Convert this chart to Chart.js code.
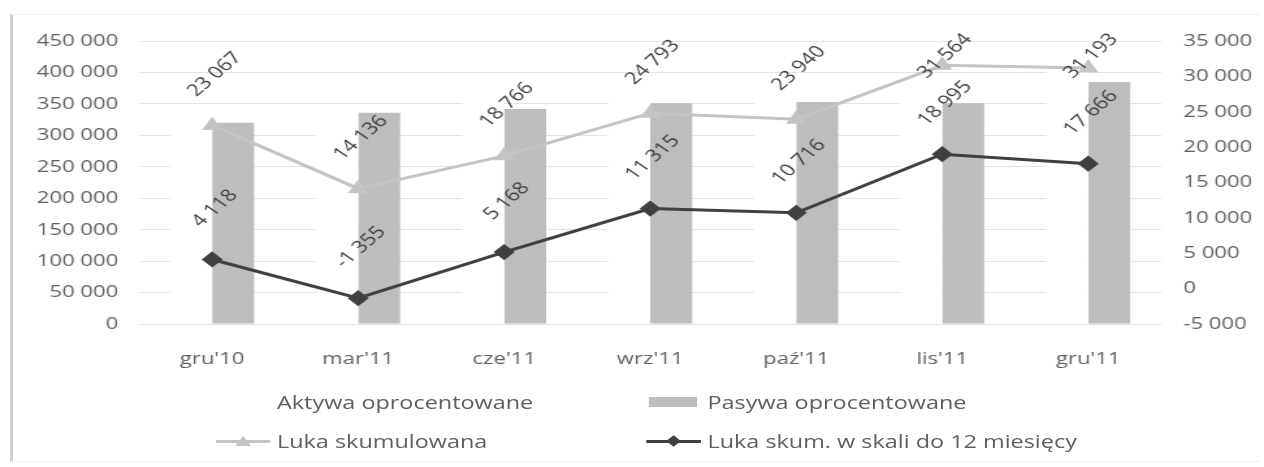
<!DOCTYPE html>
<html lang="pl">
<head>
<meta charset="utf-8">
<title>Luka stopy procentowej</title>
<script src="https://cdn.jsdelivr.net/npm/chart.js@4.4.1/dist/chart.umd.min.js"></script>
<style>
  html, body { margin: 0; padding: 0; background: #fff; overflow: hidden; }
  #frame {
    position: absolute; left: 10px; top: 14px; width: 1250px; height: 448px;
    border-left: 3px solid #cfcfcf; border-top: 1px solid #eeeeee; border-bottom: 1px solid #eeeeee;
    box-sizing: border-box;
  }
  /* the chart is laid out narrow and widened as a whole */
  #wrap {
    position: absolute; left: 0; top: 0; width: 972px; height: 467px;
    transform: scaleX(1.3004); transform-origin: 0 0;
  }
  #chart { position: absolute; left: 0; top: 0; }
  .legend-item {
    position: absolute; height: 22px; line-height: 22px;
    font-family: "Open Sans", sans-serif; font-size: 18px; color: #5f5f5f; white-space: nowrap;
  }
  .legend-item .swatch { position: absolute; top: 0; height: 22px; }
  .legend-item .label { position: absolute; top: 0; }
</style>
</head>
<body>
<div id="frame"></div>
<div id="wrap">
  <canvas id="chart" width="972" height="467"></canvas>
  <div id="legend"></div>
</div>
<script>
const categories = ["gru'10", "mar'11", "cze'11", "wrz'11", "paź'11", "lis'11", "gru'11"];
const aktywa = [343000, 350000, 361000, 376000, 377000, 383000, 416000];
const pasywa = [320000, 336000, 342000, 351000, 353000, 351000, 385000];
const lukaSkumulowana = [23067, 14136, 18766, 24793, 23940, 31564, 31193];
const luka12m = [4118, -1355, 5168, 11315, 10716, 18995, 17666];

const leftAxis = { min: 0, max: 450000, step: 50000 };
const rightAxis = { min: -5000, max: 35000, step: 5000 };

const TEXT = "#606060";
const FONT = "'Open Sans', sans-serif";

/**
 * @param {number} v value to print
 * @returns the value with a space between thousands, e.g. 450 000
 */
function formatNumber(v) {
  return String(Math.round(v)).replace(/\B(?=(\d{3})+(?!\d))/g, " ");
}

// prints the value of every line point, turned up, above the point;
// labels never go higher than the top of the frame allows
const valueLabels = {
  id: "valueLabels",
  afterDatasetsDraw(chart) {
    const ctx = chart.ctx;
    chart.data.datasets.forEach((ds, i) => {
      if (ds.type !== "line") return;
      const meta = chart.getDatasetMeta(i);
      meta.data.forEach((pt, j) => {
        const y = Math.max(pt.y - 51, 56);
        ctx.save();
        ctx.translate(pt.x + 2, y);
        ctx.rotate((-48 * Math.PI) / 180);
        ctx.font = "17px " + FONT;
        ctx.fillStyle = "#3f3f3f";
        ctx.textAlign = "center";
        ctx.textBaseline = "middle";
        ctx.fillText(formatNumber(ds.data[j]), 0, 0);
        ctx.restore();
      });
    });
  },
};

const ctx = document.getElementById("chart").getContext("2d");
const chart = new Chart(ctx, {
  data: {
    labels: categories,
    datasets: [
      {
        type: "bar",
        label: "Aktywa oprocentowane",
        data: aktywa,
        backgroundColor: "#ffffff",
        yAxisID: "y",
        order: 2,
      },
      {
        type: "bar",
        label: "Pasywa oprocentowane",
        data: pasywa,
        backgroundColor: "#bdbdbd",
        yAxisID: "y",
        order: 2,
      },
      {
        type: "line",
        label: "Luka skumulowana",
        data: lukaSkumulowana,
        borderColor: "#c4c4c4",
        backgroundColor: "#c4c4c4",
        borderWidth: 3,
        pointStyle: "triangle",
        pointRadius: 6,
        yAxisID: "y2",
        order: 1,
      },
      {
        type: "line",
        label: "Luka skum. w skali do 12 miesięcy",
        data: luka12m,
        borderColor: "#404040",
        backgroundColor: "#404040",
        borderWidth: 3,
        pointStyle: "rectRot",
        pointRadius: 6,
        yAxisID: "y2",
        order: 0,
      },
    ],
  },
  options: {
    responsive: false,
    animation: false,
    devicePixelRatio: 1,
    layout: { padding: { top: 41, left: 0, right: 0, bottom: 0 } },
    datasets: { bar: { categoryPercentage: 0.575, barPercentage: 1 } },
    plugins: { legend: { display: false }, tooltip: { enabled: false } },
    scales: {
      x: {
        grid: { display: false },
        border: { display: false },
        ticks: { color: TEXT, font: { family: FONT, size: 17 }, padding: 17, maxRotation: 0 },
        afterFit(scale) { scale.height = 143; },
      },
      y: {
        position: "left",
        min: leftAxis.min,
        max: leftAxis.max,
        grid: { color: "#e4e4e4", drawTicks: false },
        border: { display: false },
        ticks: {
          stepSize: leftAxis.step,
          color: TEXT,
          font: { family: FONT, size: 17 },
          padding: 16,
          callback: (v) => formatNumber(v),
        },
        afterFit(scale) { scale.width = 107; },
      },
      y2: {
        position: "right",
        min: rightAxis.min,
        max: rightAxis.max,
        grid: { drawOnChartArea: false, drawTicks: false },
        border: { display: false },
        ticks: {
          stepSize: rightAxis.step,
          color: TEXT,
          font: { family: FONT, size: 17 },
          padding: 17,
          callback: (v) => formatNumber(v),
        },
        afterFit(scale) { scale.width = 79; },
      },
    },
  },
  plugins: [valueLabels],
});

/**
 * @param {obj} ds dataset of the chart
 * @returns a small div drawing the legend key of the dataset
 */
function createSwatch(ds) {
  const sw = document.createElement("div");
  sw.classList.add("swatch");
  sw.style.left = "0px";
  sw.style.width = "42px";
  if (ds.type === "bar") {
    const box = document.createElement("div");
    box.style.cssText = `position:absolute;left:2px;top:6px;width:37px;height:10px;background:${ds.backgroundColor}`;
    sw.appendChild(box);
  } else {
    const line = document.createElement("div");
    line.style.cssText = `position:absolute;left:0;top:10px;width:42px;height:3px;background:${ds.borderColor}`;
    sw.appendChild(line);
    const mark = document.createElement("div");
    if (ds.pointStyle === "rectRot") {
      mark.style.cssText = `position:absolute;left:17px;top:7px;width:8px;height:8px;background:${ds.borderColor};transform:rotate(45deg)`;
    } else {
      mark.style.cssText = `position:absolute;left:15px;top:6px;width:0;height:0;border-left:6px solid transparent;border-right:6px solid transparent;border-bottom:10px solid ${ds.borderColor}`;
    }
    sw.appendChild(mark);
  }
  return sw;
}

// legend in two columns and two rows under the axis
const legendSlots = [
  { left: 166, top: 391 },
  { left: 497, top: 391 },
  { left: 166, top: 430 },
  { left: 497, top: 430 },
];
const legendDiv = document.getElementById("legend");
chart.data.datasets.forEach((ds, i) => {
  const item = document.createElement("div");
  item.classList.add("legend-item");
  item.style.left = legendSlots[i].left + "px";
  item.style.top = legendSlots[i].top + "px";
  item.appendChild(createSwatch(ds));
  const text = document.createElement("span");
  text.classList.add("label");
  text.style.left = "47px";
  text.textContent = ds.label;
  item.appendChild(text);
  legendDiv.appendChild(item);
});
</script>
</body>
</html>
